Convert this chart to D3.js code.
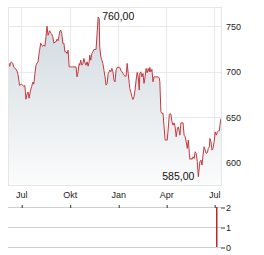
<!DOCTYPE html>
<html>
<head>
<meta charset="utf-8">
<script src="https://cdn.jsdelivr.net/npm/d3@7"></script>
<style>
  body { margin: 0; background: #fff; }
  svg { display: block; font-family: "Liberation Sans", Arial, sans-serif; }
  .axis text { fill: #222; font-size: 9px; }
  .axis .domain { display: none; }
  .note { fill: #111; font-size: 10.5px; }
</style>
</head>
<body>
<svg id="chart" width="264" height="255"></svg>
<script>

var dates = [
  "2023-06-06","2023-06-08","2023-06-09","2023-06-11","2023-06-13","2023-06-15","2023-06-17","2023-06-19","2023-06-21","2023-06-23",
  "2023-06-25","2023-06-27","2023-06-28","2023-06-30","2023-07-02","2023-07-04","2023-07-06","2023-07-08","2023-07-10","2023-07-12",
  "2023-07-14","2023-07-16","2023-07-17","2023-07-19","2023-07-21","2023-07-23","2023-07-25","2023-07-27","2023-07-29","2023-07-31",
  "2023-08-02","2023-08-04","2023-08-05","2023-08-07","2023-08-09","2023-08-11","2023-08-13","2023-08-15","2023-08-17","2023-08-19",
  "2023-08-21","2023-08-23","2023-08-24","2023-08-26","2023-08-28","2023-08-30","2023-09-01","2023-09-03","2023-09-05","2023-09-07",
  "2023-09-09","2023-09-11","2023-09-12","2023-09-14","2023-09-16","2023-09-18","2023-09-20","2023-09-22","2023-09-24","2023-09-26",
  "2023-09-28","2023-09-30","2023-10-01","2023-10-03","2023-10-05","2023-10-07","2023-10-09","2023-10-11","2023-10-13","2023-10-15",
  "2023-10-17","2023-10-19","2023-10-20","2023-10-22","2023-10-24","2023-10-26","2023-10-28","2023-10-30","2023-11-01","2023-11-03",
  "2023-11-05","2023-11-07","2023-11-08","2023-11-10","2023-11-12","2023-11-14","2023-11-16","2023-11-18","2023-11-20","2023-11-22",
  "2023-11-24","2023-11-26","2023-11-27","2023-11-29","2023-12-01","2023-12-03","2023-12-05","2023-12-07","2023-12-09","2023-12-11",
  "2023-12-13","2023-12-15","2023-12-16","2023-12-18","2023-12-20","2023-12-22","2023-12-24","2023-12-26","2023-12-28","2023-12-30",
  "2024-01-01","2024-01-03","2024-01-04","2024-01-06","2024-01-08","2024-01-10","2024-01-12","2024-01-14","2024-01-16","2024-01-18",
  "2024-01-20","2024-01-22","2024-01-23","2024-01-25","2024-01-27","2024-01-29","2024-01-31","2024-02-02","2024-02-04","2024-02-06",
  "2024-02-08","2024-02-10","2024-02-11","2024-02-13","2024-02-15","2024-02-17","2024-02-19","2024-02-21","2024-02-23","2024-02-25",
  "2024-02-27","2024-02-29","2024-03-01","2024-03-03","2024-03-05","2024-03-07","2024-03-09","2024-03-11","2024-03-13","2024-03-15",
  "2024-03-17","2024-03-19","2024-03-20","2024-03-22","2024-03-24","2024-03-26","2024-03-28","2024-03-30","2024-04-01","2024-04-03",
  "2024-04-05","2024-04-07","2024-04-08","2024-04-10","2024-04-12","2024-04-14","2024-04-16","2024-04-18","2024-04-20","2024-04-22",
  "2024-04-24","2024-04-26","2024-04-27","2024-04-29","2024-05-01","2024-05-03","2024-05-05","2024-05-07","2024-05-09","2024-05-11",
  "2024-05-13","2024-05-15","2024-05-16","2024-05-18","2024-05-20","2024-05-22","2024-05-24","2024-05-26","2024-05-28","2024-05-30",
  "2024-06-01","2024-06-03","2024-06-04","2024-06-06","2024-06-08","2024-06-10","2024-06-12","2024-06-14","2024-06-16","2024-06-18",
  "2024-06-20","2024-06-22","2024-06-23","2024-06-25","2024-06-27","2024-06-29","2024-07-01","2024-07-03","2024-07-05","2024-07-07",
  "2024-07-09","2024-07-11","2024-07-12","2024-07-14"
];

var prices = [
  709.5,709.5,706,710,710.6,709.5,705,704,703,701,
  697,689,685,686,686.5,685,684,685,670,675.5,
  678,671,674.5,680,684,688.7,686.5,697.4,707,709.5,
  710.6,720.4,723.7,731.4,729,728,729.5,728,738.3,750,
  740,743.4,745,742.3,741.2,738.3,731.4,732.5,732.8,735.8,
  734,740,743.8,745.6,742,731,731.4,721.9,721.9,720,
  723.7,705.4,705.4,705.4,705.4,705.4,705.4,705.4,705.4,694.5,
  700,709,707.3,712.8,707.3,709,714.6,709.8,707.3,711,
  706.2,711,718.2,712.8,720,721.9,724.5,724.5,724.5,742.3,
  760,758,727.3,716.4,712.8,709,701.8,694.5,685.4,687.3,
  698.2,700,701.8,700,703.7,700,691,689,701.8,704.8,
  704.8,705,704.8,701.8,700,698.5,696.3,695.2,695.2,709.2,
  698.2,687.3,681.8,677.7,672.6,669.7,672.6,680,691,699.3,
  694.5,680,698.2,700,694.5,698.2,687.3,694.5,703.7,698.9,
  703.7,700,704.8,700,702.6,689,694.5,694.5,694.5,694.5,
  694.5,693,689,656.2,654.4,654.7,639.7,625.2,625.2,625.2,
  638.3,653.6,654.2,653.6,645.2,641.6,644.1,639.7,628.8,636.9,
  639.7,634.2,630.6,644.1,644.1,644.1,630.6,628.8,623.3,616.1,
  625.2,610.6,604,605.1,604,606.9,605.1,612.4,610.6,601.5,
  585,596,601.5,603.3,597.8,608.8,617.9,614.2,610.6,611.3,
  616.1,617.9,627,623.3,614.2,616.4,623.3,634.2,630.6,634.2,
  635.3,635.3,641.6,648.9
];

var priceTicks = [600, 650, 700, 750];
var monthTicks = ["2023-07-01", "2023-10-01", "2024-01-01", "2024-04-01", "2024-07-01"];
var monthLabels = ["Jul", "Okt", "Jan", "Apr", "Jul"];

var volumeDates = ["2024-07-05"];
var volumeValues = [2];
var volumeTicks = [0, 1, 2];

var parseDate = d3.timeParse("%Y-%m-%d");
var data = dates.map(function (d, i) { return { date: parseDate(d), value: prices[i] }; });

var svg = d3.select("#chart");

var x = d3.scaleTime()
  .domain([parseDate("2023-06-06"), parseDate("2024-07-14")])
  .range([8, 221]);

var y = d3.scaleLinear().domain([576, 771]).range([185, 7]);
var yVol = d3.scaleLinear().domain([0, 2]).range([247, 207]);

function px(v) { return Math.round(v) + 0.5; }

// gradient under the price line
var grad = svg.append("defs").append("linearGradient")
  .attr("id", "fill")
  .attr("gradientUnits", "userSpaceOnUse")
  .attr("x1", 0).attr("y1", 7).attr("x2", 0).attr("y2", 185);
grad.append("stop").attr("offset", "0").attr("stop-color", "#ced7de");
grad.append("stop").attr("offset", "1").attr("stop-color", "#fbfcfc");

svg.append("clipPath").attr("id", "plotclip")
  .append("rect").attr("x", 8).attr("y", 7).attr("width", 213).attr("height", 178);

// grid
var grid = svg.append("g").attr("stroke", "#e9e9e9").attr("stroke-width", 1);
grid.selectAll(".gx")
  .data(monthTicks)
  .enter().append("line")
  .attr("x1", d => px(x(parseDate(d)))).attr("x2", d => px(x(parseDate(d))))
  .attr("y1", 7).attr("y2", 185);
grid.selectAll(".gy")
  .data(priceTicks)
  .enter().append("line")
  .attr("x1", 8).attr("x2", 221)
  .attr("y1", d => px(y(d))).attr("y2", d => px(y(d)));

var plot = svg.append("g").attr("clip-path", "url(#plotclip)");

plot.append("path")
  .datum(data)
  .attr("fill", "url(#fill)")
  .attr("d", d3.area().x(d => x(d.date)).y0(185).y1(d => y(d.value)));

plot.append("path")
  .datum(data)
  .attr("fill", "none")
  .attr("stroke", "#c43a3e")
  .attr("stroke-width", 1)
  .attr("stroke-linejoin", "round")
  .attr("d", d3.line().x(d => x(d.date)).y(d => y(d.value)));

// frame
svg.append("rect")
  .attr("x", 8.5).attr("y", 7.5).attr("width", 213).attr("height", 178)
  .attr("fill", "none").attr("stroke", "#e6e6e6");

// y labels
svg.append("g")
  .attr("class", "axis")
  .attr("transform", "translate(221,0)")
  .call(d3.axisRight(y).tickValues(priceTicks).tickSize(0).tickPadding(5).tickFormat(d3.format("d")));

// x labels
svg.append("g")
  .attr("class", "axis")
  .attr("transform", "translate(0,185)")
  .call(d3.axisBottom(x)
    .tickValues(monthTicks.map(parseDate))
    .tickSize(0).tickPadding(7)
    .tickFormat((d, i) => monthLabels[i]));

// max / min notes
var maxPoint = data.reduce((a, b) => b.value > a.value ? b : a);
var minPoint = data.reduce((a, b) => b.value < a.value ? b : a);
var fmt = v => d3.format(".2f")(v).replace(".", ",");

svg.append("text").attr("class", "note")
  .attr("x", x(maxPoint.date) + 4).attr("y", y(maxPoint.value))
  .attr("dy", "0.32em")
  .text(fmt(maxPoint.value));

svg.append("text").attr("class", "note")
  .attr("x", x(minPoint.date) - 4).attr("y", y(minPoint.value))
  .attr("dy", "0.32em")
  .attr("text-anchor", "end")
  .text(fmt(minPoint.value));

// volume panel
svg.append("g").attr("stroke", "#cfcfcf")
  .selectAll("line")
  .data(volumeTicks)
  .enter().append("line")
  .attr("x1", 8).attr("x2", 221)
  .attr("y1", d => px(yVol(d))).attr("y2", d => px(yVol(d)));

svg.append("g")
  .selectAll("rect")
  .data(volumeValues)
  .enter().append("rect")
  .attr("x", (d, i) => Math.round(x(parseDate(volumeDates[i]))))
  .attr("width", 1.5)
  .attr("y", d => yVol(d))
  .attr("height", d => yVol(0) - yVol(d))
  .attr("fill", "#b8282c");

var volAxis = svg.append("g")
  .attr("class", "axis")
  .attr("transform", "translate(221,0.5)")
  .call(d3.axisRight(yVol).tickValues(volumeTicks).tickSize(4).tickPadding(1).tickFormat(d3.format("d")));
volAxis.selectAll("line").attr("stroke", "#333");

var tickAxis = svg.append("g")
  .attr("class", "axis")
  .attr("transform", "translate(0,205)")
  .call(d3.axisBottom(x).tickValues(monthTicks.map(parseDate)).tickSize(3).tickFormat(""));
tickAxis.selectAll("line").attr("stroke", "#333")
  .attr("transform", "translate(0.5,0)");

</script>
</body>
</html>
